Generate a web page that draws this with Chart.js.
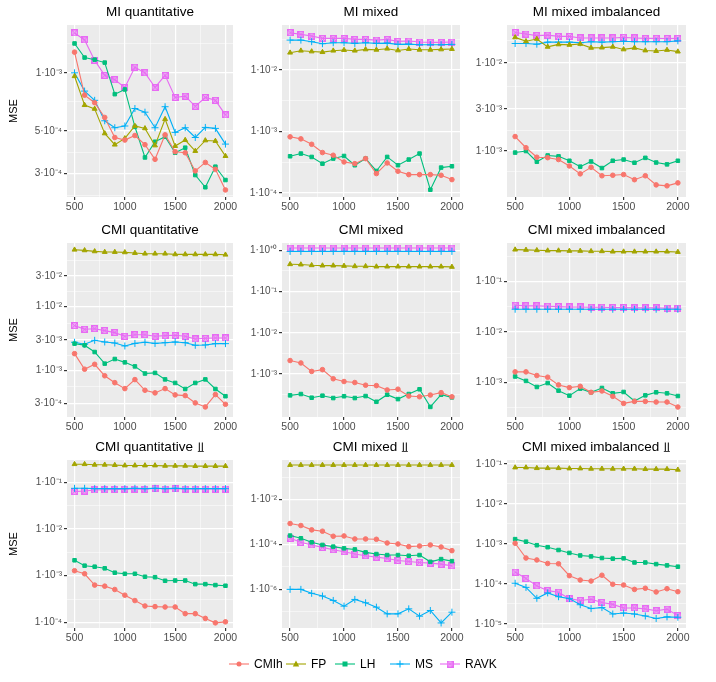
<!DOCTYPE html>
<html><head><meta charset="utf-8">
<script src="https://cdn.jsdelivr.net/npm/chart.js@4"></script>
<style>
body{margin:0;background:#fff;width:716px;height:682px;position:relative;overflow:hidden;font-family:"Liberation Sans",Arial,sans-serif;}
canvas{position:absolute;}
.title{position:absolute;font-size:13.5px;color:#000;text-align:center;white-space:nowrap;}
.leg{position:absolute;top:657px;font-size:12px;color:#000;display:flex;align-items:center;}
</style></head><body>
<script>
const xValues = [500,600,700,800,900,1000,1100,1200,1300,1400,1500,1600,1700,1800,1900,2000];
const seriesNames = ['CMIh','FP','LH','MS','RAVK'];
const seriesColors = ['#F8766D','#A3A500','#00BF7D','#00B0F6','#E76BF3'];
const panelTitles = ['MI quantitative','MI mixed','MI mixed imbalanced','CMI quantitative','CMI mixed','CMI mixed imbalanced','CMI quantitative \u2AEB','CMI mixed \u2AEB','CMI mixed imbalanced \u2AEB'];

// Panel 1: MI quantitative
const p1_CMIh=[1.28e-3,7.66e-4,7.0e-4,5.87e-4,4.62e-4,4.48e-4,4.73e-4,4.24e-4,3.56e-4,4.77e-4,3.9e-4,3.85e-4,3.1e-4,3.43e-4,3.16e-4,2.47e-4];
const p1_FP=[9.6e-4,6.8e-4,6.5e-4,4.85e-4,4.24e-4,4.57e-4,5.3e-4,5.15e-4,4.2e-4,5.75e-4,4.17e-4,4.48e-4,3.93e-4,4.46e-4,4.43e-4,3.7e-4];
const p1_LH=[1.42e-3,1.2e-3,1.17e-3,1.13e-3,7.75e-4,8.2e-4,5.25e-4,3.64e-4,4.39e-4,4.66e-4,3.85e-4,4.09e-4,2.95e-4,2.55e-4,3.26e-4,2.78e-4];
const p1_MS=[1.0e-3,8.04e-4,7.2e-4,5.64e-4,5.19e-4,5.3e-4,6.53e-4,6.25e-4,5.19e-4,6.67e-4,4.91e-4,5.19e-4,4.62e-4,5.21e-4,5.15e-4,4.27e-4];
const p1_RAVK=[1.61e-3,1.48e-3,1.16e-3,9.7e-4,9.2e-4,8.4e-4,1.07e-3,1.0e-3,8.4e-4,9.7e-4,7.45e-4,7.57e-4,6.7e-4,7.45e-4,7.2e-4,6.05e-4];
// Panel 2: MI mixed
const p2_CMIh=[8.2e-4,7.6e-4,6.2e-4,4.55e-4,4.11e-4,3.2e-4,3.0e-4,3.63e-4,2.07e-4,3.08e-4,2.26e-4,1.99e-4,1.99e-4,1.99e-4,1.94e-4,1.65e-4];
const p2_FP=[0.0192,0.0207,0.0201,0.0196,0.0207,0.0212,0.0207,0.0217,0.0214,0.0223,0.0209,0.0220,0.0214,0.0214,0.0217,0.0220];
const p2_LH=[3.96e-4,4.38e-4,3.86e-4,3.0e-4,3.63e-4,4.0e-4,2.83e-4,3.63e-4,2.28e-4,3.86e-4,2.83e-4,3.5e-4,4.38e-4,1.13e-4,2.59e-4,2.72e-4];
const p2_MS=[0.0308,0.0308,0.029,0.0269,0.0279,0.0279,0.0272,0.0279,0.0272,0.0275,0.0262,0.0265,0.0259,0.0259,0.0259,0.0262];
const p2_RAVK=[0.0406,0.0382,0.0358,0.0328,0.0328,0.0328,0.0316,0.0316,0.0308,0.0316,0.0293,0.0297,0.0286,0.0283,0.0283,0.0286];
// Panel 3: MI mixed imbalanced
const p3_CMIh=[1.46e-3,1.09e-3,8.5e-4,8.4e-4,8.0e-4,6.76e-4,5.5e-4,6.53e-4,5.23e-4,5.3e-4,5.4e-4,4.72e-4,5.23e-4,4.12e-4,4.02e-4,4.34e-4];
const p3_FP=[0.0196,0.0177,0.0188,0.0153,0.0163,0.0161,0.0165,0.0149,0.0150,0.0153,0.0143,0.0149,0.0139,0.0137,0.0141,0.0135];
const p3_LH=[9.6e-4,1.0e-3,7.55e-4,8.9e-4,8.7e-4,7.75e-4,6.64e-4,7.6e-4,6.4e-4,7.75e-4,8.0e-4,7.36e-4,8.36e-4,7.4e-4,7.05e-4,7.75e-4];
const p3_MS=[0.0167,0.0167,0.0164,0.0173,0.0173,0.0173,0.0170,0.0175,0.0173,0.0175,0.0177,0.0175,0.0175,0.0175,0.0175,0.0179];
const p3_RAVK=[0.0223,0.0214,0.0205,0.0208,0.0201,0.0201,0.0193,0.0193,0.0193,0.0193,0.0196,0.0193,0.0191,0.0191,0.0190,0.0191];
// Panel 4: CMI quantitative
const p4_CMIh=[1.82e-3,1.04e-3,1.24e-3,8.2e-4,6.4e-4,5.17e-4,7.15e-4,4.87e-4,4.43e-4,5.17e-4,4.12e-4,4.02e-4,3.09e-4,2.67e-4,4.17e-4,2.94e-4];
const p4_FP=[0.0767,0.075,0.0723,0.0706,0.0706,0.0698,0.0681,0.0665,0.0665,0.0665,0.0649,0.0649,0.0649,0.0649,0.0649,0.0641];
const p4_LH=[2.61e-3,2.46e-3,1.93e-3,1.27e-3,1.5e-3,1.33e-3,1.15e-3,8.9e-4,9.1e-4,7.2e-4,6.34e-4,5.1e-4,6.34e-4,7.2e-4,5.1e-4,3.93e-4];
const p4_MS=[2.74e-3,2.55e-3,2.94e-3,2.77e-3,2.67e-3,2.4e-3,2.63e-3,2.74e-3,2.63e-3,2.7e-3,2.77e-3,2.7e-3,2.46e-3,2.49e-3,2.61e-3,2.61e-3];
const p4_RAVK=[4.99e-3,4.37e-3,4.47e-3,4.17e-3,3.88e-3,3.4e-3,3.6e-3,3.6e-3,3.4e-3,3.48e-3,3.52e-3,3.4e-3,3.09e-3,3.16e-3,3.2e-3,3.2e-3];
// Panel 5: CMI mixed
const p5_CMIh=[2.13e-3,1.86e-3,1.16e-3,1.28e-3,7.7e-4,6.6e-4,6.24e-4,5.37e-4,5.25e-4,4.12e-4,4.3e-4,2.93e-4,2.82e-4,3.1e-4,3.54e-4,2.82e-4];
const p5_FP=[0.461,0.453,0.436,0.428,0.428,0.42,0.412,0.412,0.404,0.404,0.404,0.404,0.404,0.404,0.404,0.397];
const p5_LH=[3.05e-4,3.28e-4,2.67e-4,2.99e-4,2.62e-4,2.9e-4,2.62e-4,2.93e-4,2.13e-4,3.16e-4,2.47e-4,3.28e-4,4.28e-4,1.6e-4,3.16e-4,2.72e-4];
const p5_MS=[0.945,0.945,0.945,0.945,0.945,0.945,0.945,0.945,0.945,0.945,0.945,0.945,0.945,0.945,0.945,0.945];
const p5_RAVK=[1.14,1.14,1.14,1.14,1.14,1.14,1.14,1.14,1.14,1.14,1.14,1.14,1.14,1.14,1.14,1.14];
// Panel 6: CMI mixed imbalanced
const p6_CMIh=[1.63e-3,1.63e-3,1.38e-3,1.28e-3,9.0e-4,7.96e-4,8.45e-4,6.43e-4,6.83e-4,5.35e-4,3.88e-4,4.25e-4,4.25e-4,4.13e-4,4.13e-4,3.29e-4];
const p6_FP=[0.425,0.42,0.413,0.407,0.407,0.401,0.401,0.395,0.395,0.388,0.388,0.388,0.388,0.388,0.388,0.382];
const p6_LH=[1.32e-3,1.08e-3,8.2e-4,9.8e-4,6.93e-4,5.52e-4,7.6e-4,6.43e-4,7.83e-4,6.14e-4,6.53e-4,4.33e-4,5.6e-4,6.43e-4,6.14e-4,5.43e-4];
const p6_MS=[0.0282,0.0282,0.0282,0.0282,0.0282,0.0282,0.0282,0.0282,0.0282,0.0282,0.0282,0.0282,0.0282,0.0282,0.0282,0.0282];
const p6_RAVK=[0.0339,0.0329,0.0329,0.0324,0.0318,0.0313,0.0313,0.0309,0.0309,0.0304,0.0304,0.030,0.030,0.030,0.0295,0.0295];
// Panel 7: CMI quantitative ⫫
const p7_CMIh=[1.28e-3,1.1e-3,6.3e-4,5.98e-4,5.07e-4,3.83e-4,2.94e-4,2.25e-4,2.18e-4,2.14e-4,2.14e-4,1.54e-4,1.54e-4,1.22e-4,9.8e-5,1.03e-4];
const p7_FP=[0.244,0.244,0.237,0.237,0.233,0.229,0.229,0.229,0.229,0.225,0.225,0.225,0.222,0.222,0.222,0.222];
const p7_LH=[2.14e-3,1.64e-3,1.56e-3,1.44e-3,1.16e-3,1.1e-3,1.1e-3,9.5e-4,9.3e-4,7.8e-4,7.9e-4,7.9e-4,6.6e-4,6.6e-4,6.3e-4,6.1e-4];
const p7_MS=[0.0743,0.0743,0.073,0.073,0.073,0.073,0.0743,0.073,0.0743,0.073,0.0743,0.073,0.073,0.073,0.073,0.073];
const p7_RAVK=[0.063,0.065,0.0684,0.0694,0.0706,0.0706,0.0718,0.0706,0.0743,0.0718,0.073,0.0718,0.0718,0.0718,0.0718,0.0718];
// Panel 8: CMI mixed ⫫
const p8_CMIh=[8.6e-4,7.0e-4,4.47e-4,3.9e-4,2.32e-4,2.4e-4,1.76e-4,1.76e-4,1.7e-4,1.16e-4,1.05e-4,8.0e-5,8.5e-5,9.5e-5,7.7e-5,5.3e-5];
const p8_FP=[0.35,0.35,0.35,0.35,0.35,0.35,0.35,0.35,0.35,0.35,0.35,0.35,0.35,0.35,0.35,0.35];
const p8_LH=[2.49e-4,1.89e-4,1.25e-4,9.5e-5,8.0e-5,6.7e-5,6.0e-5,4.43e-5,3.72e-5,3.36e-5,3.36e-5,3.13e-5,3.36e-5,1.68e-5,2.22e-5,1.8e-5];
const p8_MS=[9.9e-7,9.9e-7,6.6e-7,5.0e-7,3.18e-7,1.77e-7,3.52e-7,2.49e-7,1.59e-7,8.0e-8,8.0e-8,1.34e-7,6.3e-8,1.13e-7,3.15e-8,9.5e-8];
const p8_RAVK=[1.89e-4,1.25e-4,9.5e-5,7.4e-5,5.83e-5,4.74e-5,3.72e-5,3.13e-5,2.73e-5,2.38e-5,1.93e-5,1.74e-5,1.57e-5,1.47e-5,1.32e-5,1.11e-5];
// Panel 9: CMI mixed imbalanced ⫫
const p9_CMIh=[1.04e-3,4.45e-4,3.98e-4,3.25e-4,3.19e-4,1.61e-4,1.25e-4,1.18e-4,1.65e-4,9.8e-5,9.4e-5,7.3e-5,7.8e-5,6.3e-5,7.6e-5,6.4e-5];
const p9_FP=[0.0817,0.0817,0.0787,0.0787,0.0787,0.0773,0.0773,0.0759,0.0759,0.0759,0.0759,0.0759,0.0745,0.0745,0.0745,0.0718];
const p9_LH=[1.32e-3,1.14e-3,9.3e-4,8.3e-4,7.05e-4,5.97e-4,5.15e-4,4.88e-4,4.45e-4,4.29e-4,4.37e-4,3.44e-4,3.44e-4,3.13e-4,2.91e-4,2.7e-4];
const p9_MS=[1.04e-4,8.2e-5,4.37e-5,5.97e-5,4.79e-5,4.29e-5,3.02e-5,2.42e-5,2.56e-5,1.77e-5,1.87e-5,1.77e-5,1.58e-5,1.37e-5,1.5e-5,1.47e-5];
const p9_RAVK=[1.98e-4,1.37e-4,8.95e-5,6.8e-5,6.2e-5,4.29e-5,3.84e-5,4.15e-5,3.44e-5,3.08e-5,2.51e-5,2.51e-5,2.38e-5,2.13e-5,2.34e-5,1.61e-5];

// y tick values and labels per panel
const yTicks1=[1e-3,5e-4,3e-4], yLabels1=['1\u00B710\u207B\u00B3','5\u00B710\u207B\u2074','3\u00B710\u207B\u2074'];
const yTicks2=[1e-2,1e-3,1e-4], yLabels2=['1\u00B710\u207B\u00B2','1\u00B710\u207B\u00B3','1\u00B710\u207B\u2074'];
const yTicks3=[1e-2,3e-3,1e-3], yLabels3=['1\u00B710\u207B\u00B2','3\u00B710\u207B\u00B3','1\u00B710\u207B\u00B3'];
const yTicks4=[3e-2,1e-2,3e-3,1e-3,3e-4], yLabels4=['3\u00B710\u207B\u00B2','1\u00B710\u207B\u00B2','3\u00B710\u207B\u00B3','1\u00B710\u207B\u00B3','3\u00B710\u207B\u2074'];
const yTicks5=[1,1e-1,1e-2,1e-3], yLabels5=['1\u00B710\u207A\u2070','1\u00B710\u207B\u00B9','1\u00B710\u207B\u00B2','1\u00B710\u207B\u00B3'];
const yTicks6=[1e-1,1e-2,1e-3], yLabels6=['1\u00B710\u207B\u00B9','1\u00B710\u207B\u00B2','1\u00B710\u207B\u00B3'];
const yTicks7=[1e-1,1e-2,1e-3,1e-4], yLabels7=['1\u00B710\u207B\u00B9','1\u00B710\u207B\u00B2','1\u00B710\u207B\u00B3','1\u00B710\u207B\u2074'];
const yTicks8=[1e-2,1e-4,1e-6], yLabels8=['1\u00B710\u207B\u00B2','1\u00B710\u207B\u2074','1\u00B710\u207B\u2076'];
const yTicks9=[1e-1,1e-2,1e-3,1e-4,1e-5], yLabels9=['1\u00B710\u207B\u00B9','1\u00B710\u207B\u00B2','1\u00B710\u207B\u00B3','1\u00B710\u207B\u2074','1\u00B710\u207B\u2075'];
const yRanges=[[2.27e-4,1.77e-3],[8.6e-5,0.0542],[3.36e-4,0.0271],[1.86e-4,0.0977],[9.1e-5,1.51],[2.09e-4,0.575],[7.6e-5,0.30],[1.87e-8,0.587],[7.9e-6,0.126]];

const panelData=[
 [p1_CMIh,p1_FP,p1_LH,p1_MS,p1_RAVK],[p2_CMIh,p2_FP,p2_LH,p2_MS,p2_RAVK],[p3_CMIh,p3_FP,p3_LH,p3_MS,p3_RAVK],
 [p4_CMIh,p4_FP,p4_LH,p4_MS,p4_RAVK],[p5_CMIh,p5_FP,p5_LH,p5_MS,p5_RAVK],[p6_CMIh,p6_FP,p6_LH,p6_MS,p6_RAVK],
 [p7_CMIh,p7_FP,p7_LH,p7_MS,p7_RAVK],[p8_CMIh,p8_FP,p8_LH,p8_MS,p8_RAVK],[p9_CMIh,p9_FP,p9_LH,p9_MS,p9_RAVK]];
const panelTicks=[[yTicks1,yLabels1],[yTicks2,yLabels2],[yTicks3,yLabels3],[yTicks4,yLabels4],[yTicks5,yLabels5],[yTicks6,yLabels6],[yTicks7,yLabels7],[yTicks8,yLabels8],[yTicks9,yLabels9]];

// layout
const colLeft=[67,282,507], colW=[166,178,179];
const rowTop=[25,243,460], rowH=[172,174,168];
const YW=60, PADT=8, PADR=16, XH=22;

function boxCross(color){
  const c=document.createElement('canvas'); c.width=7;c.height=7;
  const g=c.getContext('2d'); g.strokeStyle=color; g.fillStyle=color+'88'; g.lineWidth=1;
  g.fillRect(0.5,0.5,6,6); g.strokeRect(0.5,0.5,6,6);
  g.beginPath(); g.moveTo(0.5,0.5); g.lineTo(6.5,6.5); g.moveTo(6.5,0.5); g.lineTo(0.5,6.5); g.stroke();
  return c;
}
const pStyles=['circle','triangle','rect','cross',boxCross('#E76BF3')];
const pRad=[2.3,2.8,2.5,3.5,3.5];

const bgPlugin={id:'bg',beforeDraw(ch){const a=ch.chartArea,g=ch.ctx;g.save();g.fillStyle='#EBEBEB';g.fillRect(a.left,a.top,a.right-a.left,a.bottom-a.top);g.restore();}};
const xTicks=[500,750,1000,1250,1500,1750,2000];

for(let i=0;i<9;i++){
  const r=Math.floor(i/3), c=i%3;
  const cv=document.createElement('canvas');
  const W=YW+colW[c]+PADR, H=PADT+rowH[r]+XH;
  cv.width=W; cv.height=H;
  cv.style.left=(colLeft[c]-YW)+'px'; cv.style.top=(rowTop[r]-PADT)+'px';
  document.body.appendChild(cv);
  const t=document.createElement('div'); t.className='title'; t.textContent=panelTitles[i];
  t.style.left=colLeft[c]+'px'; t.style.width=colW[c]+'px'; t.style.top=(rowTop[r]-21)+'px';
  document.body.appendChild(t);

  const [maj,lab]=panelTicks[i];
  const lg=maj.map(Math.log10);
  const minors=[];
  for(let k=0;k<lg.length-1;k++) minors.push((lg[k]+lg[k+1])/2);
  const st0=(lg[0]-lg[1])/2, stN=(lg[lg.length-2]-lg[lg.length-1])/2;
  minors.push(lg[0]+st0, lg[lg.length-1]-stN);
  const [ymin,ymax]=yRanges[i];
  const minorVals=minors.map(v=>Math.pow(10,v)).filter(v=>v>ymin&&v<ymax);
  const allY=[...maj.filter(v=>v>=ymin&&v<=ymax),...minorVals].sort((a,b)=>a-b);
  const isMaj=v=>maj.some(m=>Math.abs(m-v)/m<1e-6);

  new Chart(cv,{
    type:'line',
    data:{datasets:seriesNames.map((n,k)=>({
      label:n,
      data:xValues.map((x,j)=>({x,y:panelData[i][k][j]})),
      borderColor:seriesColors[k],backgroundColor:seriesColors[k],
      borderWidth:1.1,pointStyle:pStyles[k],pointRadius:pRad[k],pointBorderWidth:1,
      pointBackgroundColor:seriesColors[k],tension:0
    }))},
    options:{
      responsive:false,animation:false,
      layout:{autoPadding:false,padding:{top:PADT,right:PADR,left:0,bottom:0}},
      plugins:{legend:{display:false},tooltip:{enabled:false}},
      scales:{
        x:{type:'linear',min:425,max:2075,
          afterBuildTicks:s=>{s.ticks=xTicks.map(v=>({value:v}));},
          afterFit:s=>{s.height=XH;},
          border:{display:false},
          grid:{color:'#FFFFFF',lineWidth:ctx=>(ctx.tick&&ctx.tick.value%500===0)?1.2:0.5,
            tickLength:3,tickColor:ctx=>(ctx.tick&&ctx.tick.value%500===0)?'#333333':'rgba(0,0,0,0)'},
          ticks:{autoSkip:false,maxRotation:0,padding:1,color:'#4D4D4D',font:{family:'Liberation Sans',size:10.5},
            callback:v=>v%500===0?String(v):''}
        },
        y:{type:'logarithmic',min:ymin,max:ymax,
          afterBuildTicks:s=>{s.ticks=allY.map(v=>({value:v}));},
          afterFit:s=>{s.width=YW;},
          border:{display:false},
          title:{display:c===0,text:'MSE',color:'#000',font:{family:'Liberation Sans',size:11},padding:{top:0,bottom:4}},
          grid:{color:'#FFFFFF',lineWidth:ctx=>(ctx.tick&&isMaj(ctx.tick.value))?1.2:0.5,
            tickLength:3,tickColor:ctx=>(ctx.tick&&isMaj(ctx.tick.value))?'#333333':'rgba(0,0,0,0)'},
          ticks:{autoSkip:false,padding:2,color:'#4D4D4D',font:{family:'Liberation Sans',size:10},
            callback:v=>{const idx=maj.findIndex(m=>Math.abs(m-v)/m<1e-6);return idx>=0?lab[idx]:'';}}
        }
      }
    },
    plugins:[bgPlugin]
  });
}

// legend
const legX=[228,285,334,389,439];
seriesNames.forEach((n,k)=>{
  const d=document.createElement('div'); d.className='leg'; d.style.left=legX[k]+'px';
  const cv=document.createElement('canvas'); cv.width=22; cv.height=14; cv.style.position='static';
  const g=cv.getContext('2d'); g.strokeStyle=seriesColors[k]; g.fillStyle=seriesColors[k]; g.lineWidth=1.1;
  g.beginPath(); g.moveTo(1,7); g.lineTo(21,7); g.stroke();
  g.beginPath();
  if(k===0){g.arc(11,7,2.5,0,Math.PI*2);g.fill();}
  else if(k===1){g.moveTo(11,3.5);g.lineTo(14.2,9.5);g.lineTo(7.8,9.5);g.closePath();g.fill();}
  else if(k===2){g.fillRect(8.5,4.5,5,5);}
  else if(k===3){g.moveTo(7.5,7);g.lineTo(14.5,7);g.moveTo(11,3.5);g.lineTo(11,10.5);g.stroke();}
  else {g.drawImage(boxCross(seriesColors[4]),7.5,3.5);}
  d.appendChild(cv);
  const s=document.createElement('span'); s.textContent=n; s.style.marginLeft='4px';
  d.appendChild(s); document.body.appendChild(d);
});
</script>
</body></html>
